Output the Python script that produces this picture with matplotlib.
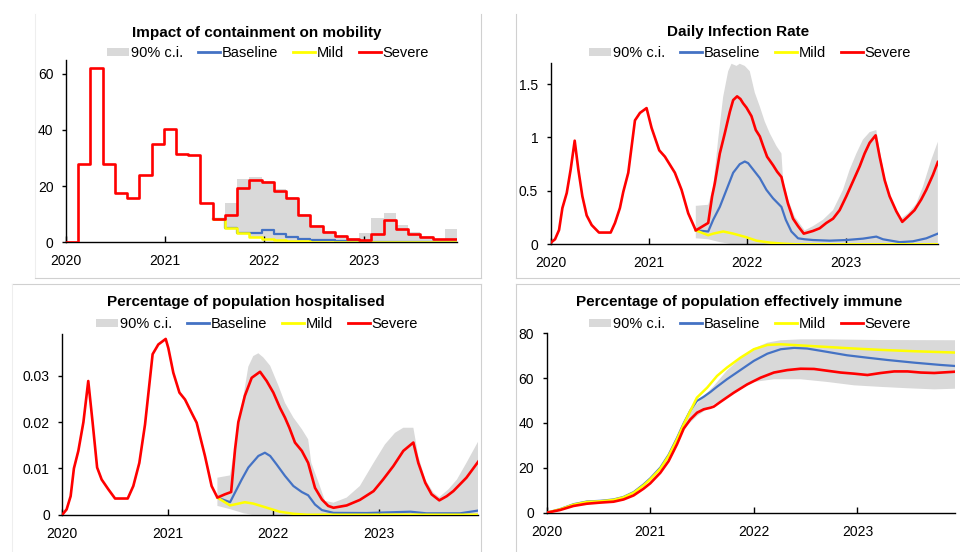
import numpy as np
import matplotlib
matplotlib.use("Agg")
import matplotlib.pyplot as plt
from matplotlib.lines import Line2D
from matplotlib.patches import Patch

plt.rcParams['font.family'] = ['Liberation Sans', 'DejaVu Sans']

# ---------------- data ----------------
YEARS = [2020, 2021, 2022, 2023]
START = 2020
PERIOD = 45 / 365.25          # length of one containment period (years)
N_PERIODS = 32

# Panel 1: impact of containment on mobility (per 45-day period)
mob_severe = [0, 28, 62, 28, 17.5, 15.7, 24, 35, 40.3, 31.6, 31.1, 13.8, 8.2, 9.6, 19.4, 22.1,
              21.3, 18.3, 15.8, 9.6, 5.7, 3.7, 2.1, 1.2, 0.7, 2.9, 7.8, 4.5, 2.9, 1.9, 0.95, 1.2]
mob_first = 12   # index where scenarios start
mob_mild = [8.2, 4.9, 3.1, 1.7, 0.95, 0.6, 0.35, 0.2, 0.15, 0.1, 0.08, 0.06, 0.05, 0.05, 0.05,
            0.05, 0.05, 0.05, 0.05, 0.05]
mob_base = [8.2, 4.9, 3.1, 3.3, 4.2, 2.9, 1.7, 1.1, 0.7, 0.6, 0.35, 0.25, 0.15, 0.1, 0.1,
            0.1, 0.1, 0.1, 0.1, 0.1]
mob_ci_hi = [8.2, 14.1, 22.4, 23.3, 21.8, 19.1, 16.2, 9.9, 5.9, 3.9, 2.4, 1.4, 3.3, 8.4, 10.5,
             5.9, 3.7, 2.1, 1.1, 4.5]

# Panel 2: daily infection rate
inf_sev_t = [0, 0.044, 0.085, 0.119, 0.163, 0.203, 0.244, 0.281, 0.322, 0.366, 0.417, 0.491, 0.61,
             0.654, 0.704, 0.738, 0.789, 0.857, 0.908, 0.975, 1.026, 1.104, 1.162, 1.263, 1.331,
             1.399, 1.476, 1.602, 1.642, 1.669, 1.72, 1.771, 1.822, 1.856, 1.896, 1.93, 1.957,
             1.991, 2.042, 2.086, 2.127, 2.161, 2.201, 2.262, 2.303, 2.347, 2.37, 2.414, 2.465,
             2.516, 2.574, 2.668, 2.736, 2.804, 2.872, 2.939, 3.007, 3.075, 3.143, 3.193, 3.244,
             3.305, 3.346, 3.397, 3.447, 3.515, 3.576, 3.634, 3.701, 3.769, 3.82, 3.888, 3.938]
inf_sev_v = [0.015, 0.047, 0.134, 0.34, 0.48, 0.70, 0.97, 0.70, 0.45, 0.27, 0.18, 0.11, 0.11,
             0.20, 0.34, 0.49, 0.67, 1.16, 1.23, 1.275, 1.09, 0.88, 0.82, 0.67, 0.51,
             0.29, 0.13, 0.20, 0.45, 0.57, 0.85, 1.04, 1.24, 1.35, 1.385, 1.36, 1.32,
             1.28, 1.20, 1.07, 1.01, 0.92, 0.82, 0.74, 0.68, 0.63, 0.54, 0.38, 0.24,
             0.17, 0.10, 0.125, 0.15, 0.20, 0.24, 0.32, 0.45, 0.59, 0.73, 0.85, 0.95,
             1.02, 0.82, 0.60, 0.45, 0.31, 0.21, 0.26, 0.32, 0.42, 0.51, 0.65, 0.77]
inf_base_t = [1.476, 1.602, 1.653, 1.72, 1.788, 1.856, 1.923, 1.974, 2.008, 2.059, 2.127, 2.194,
              2.262, 2.347, 2.391, 2.448, 2.516, 2.584, 2.668, 2.838, 3.007, 3.176, 3.312, 3.38,
              3.549, 3.684, 3.82, 3.938]
inf_base_v = [0.13, 0.12, 0.23, 0.35, 0.51, 0.67, 0.75, 0.775, 0.76, 0.70, 0.62, 0.51,
              0.43, 0.35, 0.23, 0.12, 0.056, 0.047, 0.04, 0.034, 0.04, 0.053, 0.072, 0.047,
              0.02, 0.028, 0.056, 0.10]
inf_mild_t = [1.476, 1.602, 1.653, 1.755, 1.856, 1.991, 2.093, 2.228, 2.364, 2.5, 3.938]
inf_mild_v = [0.13, 0.085, 0.10, 0.12, 0.10, 0.066, 0.034, 0.016, 0.006, 0.0, 0.0]
inf_hi_t = [1.476, 1.602, 1.653, 1.703, 1.754, 1.805, 1.839, 1.89, 1.923, 1.974, 2.025, 2.076,
            2.127, 2.177, 2.228, 2.296, 2.347, 2.364, 2.414, 2.482, 2.584, 2.668, 2.77, 2.872,
            2.973, 3.041, 3.109, 3.176, 3.244, 3.312, 3.346, 3.397, 3.464, 3.549, 3.634, 3.718,
            3.786, 3.871, 3.938]
inf_hi_v = [0.36, 0.37, 0.54, 0.98, 1.38, 1.62, 1.69, 1.67, 1.69, 1.67, 1.62, 1.42,
            1.29, 1.15, 1.04, 0.92, 0.85, 0.60, 0.42, 0.26, 0.13, 0.17, 0.23, 0.32,
            0.51, 0.70, 0.85, 0.98, 1.05, 1.07, 0.88, 0.63, 0.42, 0.23, 0.29, 0.38,
            0.54, 0.79, 0.96]
inf_lo_t = [1.476, 1.602, 1.72, 1.85, 3.938]
inf_lo_v = [0.056, 0.047, 0.02, 0.0, 0.0]

# Panel 3: percentage of population hospitalised
hos_sev_t = [0, 0.041, 0.079, 0.11, 0.152, 0.2, 0.246, 0.287, 0.33, 0.373, 0.436, 0.5, 0.62, 0.673,
             0.73, 0.784, 0.856, 0.91, 0.98, 1.005, 1.052, 1.11, 1.163, 1.226, 1.273, 1.352, 1.415,
             1.47, 1.54, 1.6, 1.637, 1.668, 1.73, 1.795, 1.874, 1.937, 2.0, 2.063, 2.11, 2.152,
             2.205, 2.27, 2.33, 2.395, 2.46, 2.52, 2.57, 2.695, 2.82, 2.95, 3.04, 3.137, 3.232,
             3.327, 3.374, 3.44, 3.5, 3.573, 3.643, 3.706, 3.83, 3.943]
hos_sev_v = [0, 0.00115, 0.004, 0.010, 0.0138, 0.020, 0.0289, 0.020, 0.0102, 0.0076, 0.0055, 0.0035,
             0.0035, 0.0062, 0.0112, 0.0195, 0.0347, 0.0368, 0.038, 0.036, 0.0307, 0.0264, 0.0249,
             0.022, 0.0199, 0.0127, 0.0062, 0.0037, 0.0044, 0.0049, 0.0141, 0.020, 0.0257, 0.0296,
             0.0309, 0.0289, 0.0264, 0.0231, 0.021, 0.0188, 0.0156, 0.0138, 0.0112, 0.0058, 0.0033,
             0.0019, 0.0015, 0.002, 0.0032, 0.0051, 0.0076, 0.0105, 0.0138, 0.0156, 0.0112, 0.0069,
             0.0044, 0.0031, 0.004, 0.0051, 0.008, 0.0115]
hos_base_t = [1.47, 1.59, 1.637, 1.7, 1.763, 1.858, 1.92, 1.97, 2.03, 2.11, 2.19, 2.27, 2.33, 2.395,
              2.46, 2.57, 2.885, 3.3, 3.45, 3.77, 3.943]
hos_base_v = [0.0037, 0.0027, 0.0048, 0.0076, 0.0102, 0.0127, 0.0134, 0.0127, 0.0109, 0.0084,
              0.0062, 0.0049, 0.0042, 0.0022, 0.001, 0.0004, 0.00036, 0.00065, 0.0003, 0.0003, 0.0009]
hos_mild_t = [1.47, 1.59, 1.73, 1.81, 1.94, 2.06, 2.19, 2.32, 3.943]
hos_mild_v = [0.0037, 0.002, 0.0027, 0.0024, 0.0015, 0.00065, 0.0002, 0.0, 0.0]
hos_hi_t = [1.47, 1.59, 1.62, 1.685, 1.763, 1.81, 1.858, 1.905, 1.97, 2.05, 2.11, 2.19, 2.27, 2.33,
            2.36, 2.43, 2.49, 2.57, 2.695, 2.82, 2.95, 3.058, 3.153, 3.232, 3.327, 3.374, 3.44,
            3.517, 3.573, 3.66, 3.74, 3.83, 3.943]
hos_hi_v = [0.008, 0.0085, 0.0127, 0.0213, 0.032, 0.0343, 0.0349, 0.034, 0.0322, 0.0278, 0.0242,
            0.021, 0.0185, 0.0163, 0.0112, 0.0069, 0.003, 0.0026, 0.0037, 0.0062, 0.0112, 0.0152,
            0.0177, 0.0188, 0.0188, 0.0127, 0.0076, 0.0048, 0.0038, 0.0055, 0.0076, 0.0112, 0.0159]
hos_lo_t = [1.47, 1.59, 1.72, 1.8, 3.943]
hos_lo_v = [0.0019, 0.0012, 0.0003, 0.0, 0.0]

# Panel 4: percentage of population effectively immune
imm_early_t = [0, 0.13, 0.26, 0.39, 0.52, 0.645, 0.74, 0.84, 0.935, 1.0, 1.097, 1.177, 1.258,
               1.323, 1.387]
imm_base_t = imm_early_t + [1.45, 1.516, 1.58, 1.645, 1.74, 1.87, 2.0, 2.13, 2.26, 2.39, 2.516,
                            2.71, 2.9, 3.1, 3.29, 3.55, 3.8, 3.95]
imm_base_v = [0, 1.6, 3.8, 5.0, 5.3, 5.9, 7.0, 9.2, 12.6, 15.3, 20.1, 25.8, 33.3, 39.9, 45.6,
              49.8, 51.7, 53.8, 56.2, 59.5, 63.6, 67.7, 70.9, 72.9, 73.5, 73.2, 71.7, 70.2,
              69.1, 68.1, 66.9, 65.9, 65.4]
imm_mild_t = imm_early_t + [1.45, 1.55, 1.645, 1.74, 1.87, 2.0, 2.13, 2.26, 2.45, 2.71, 2.97,
                            3.23, 3.55, 3.95]
imm_mild_v = [0, 1.5, 3.6, 4.8, 5.1, 5.7, 6.8, 8.9, 12.2, 14.9, 19.6, 25.3, 32.7, 39.4, 45.4,
              51.3, 55.8, 61.0, 64.7, 69.1, 72.9, 74.8, 75.1, 74.6, 73.9, 73.2, 72.6, 72.0, 71.4]
imm_sev_t = [0, 0.129, 0.258, 0.387, 0.516, 0.645, 0.742, 0.839, 0.935, 1.0, 1.097, 1.177, 1.258,
             1.323, 1.387, 1.452, 1.516, 1.581, 1.613, 1.677, 1.806, 1.935, 2.065, 2.194, 2.323,
             2.452, 2.581, 2.71, 2.839, 2.968, 3.097, 3.226, 3.355, 3.484, 3.613, 3.742, 3.952]
imm_sev_v = [0, 1.2, 3.0, 4.0, 4.5, 4.9, 5.9, 7.7, 10.7, 13.1, 17.8, 23.0, 30.5, 37.5, 41.6,
             44.6, 46.1, 46.8, 47.3, 49.4, 53.5, 57.2, 60.2, 62.5, 63.6, 64.2, 64.1, 63.3,
             62.5, 62.0, 61.4, 62.3, 63.0, 63.0, 62.5, 62.3, 62.9]
imm_hi_t = [1.323, 1.387, 1.613, 1.742, 1.871, 2.0, 2.129, 2.258, 2.452, 2.71, 3.226, 3.952]
imm_hi_v = [39.4, 45.4, 56.5, 63.5, 68.8, 73.2, 75.8, 76.9, 77.3, 77.3, 77.0, 76.9]
imm_lo_t = [1.323, 1.452, 1.613, 1.806, 2.0, 2.194, 2.452, 2.71, 2.968, 3.226, 3.484, 3.742, 3.952]
imm_lo_v = [37.5, 43.1, 48.3, 53.5, 58.3, 59.5, 59.5, 58.3, 56.8, 56.1, 55.5, 55.0, 55.3]

TITLES = ["Impact of containment on mobility", "Daily Infection Rate",
          "Percentage of population hospitalised", "Percentage of population effectively immune"]
LEGEND_LABELS = ["90% c.i.", "Baseline", "Mild", "Severe"]

# ---------------- style ----------------
C_CI = "#D9D9D9"
C_BASE = "#4472C4"
C_MILD = "#FFFF00"
C_SEV = "#FF0000"
W, H = 960, 552
XMAX = START + N_PERIODS * PERIOD

fig = plt.figure(figsize=(W / 100, H / 100), dpi=100)
fig.patch.set_facecolor("white")


def px_axes(l, t, r, b):
    return fig.add_axes([l / W, 1 - b / H, (r - l) / W, (b - t) / H])


def frame_line(xs, ys, color="#D0D0D0"):
    fig.add_artist(Line2D([x / W for x in xs], [1 - y / H for y in ys], color=color, lw=0.8))


def style(ax, ylim, yticks, fmt):
    ax.set_xlim(START, XMAX)
    ax.set_ylim(*ylim)
    ax.set_xticks(YEARS)
    ax.set_xticklabels([str(y) for y in YEARS])
    ax.set_yticks(yticks)
    ax.set_yticklabels([fmt(v) for v in yticks])
    for s in ("top", "right"):
        ax.spines[s].set_visible(False)
    for s in ("left", "bottom"):
        ax.spines[s].set_color("black")
        ax.spines[s].set_linewidth(1.0)
    ax.tick_params(axis="x", direction="in", length=4, width=1, labelsize=10, pad=8.5)
    ax.tick_params(axis="y", direction="out", length=3, width=1, labelsize=10, pad=6)


def yr(t):
    return START + np.asarray(t)


def legend_and_title(ax, title, tx, ty, lx, ly):
    fig.text(tx / W, 1 - ty / H, title, ha="center", va="center", fontsize=11, fontweight="bold")
    handles = [Patch(facecolor=C_CI, edgecolor="none"),
               Line2D([], [], color=C_BASE, lw=2),
               Line2D([], [], color=C_MILD, lw=2),
               Line2D([], [], color=C_SEV, lw=2)]
    ax.legend(handles, LEGEND_LABELS, loc="center", bbox_to_anchor=(lx / W, 1 - ly / H),
              bbox_transform=fig.transFigure, ncol=4, frameon=False, fontsize=10.5,
              handlelength=1.5, handleheight=0.45, handletextpad=0.15, columnspacing=1.0,
              borderpad=0, borderaxespad=0)


def line_fill(ax, hi_t, hi_v, lo_t, lo_v):
    xs = np.concatenate([yr(hi_t), yr(lo_t)[::-1]])
    ys = np.concatenate([hi_v, lo_v[::-1]])
    ax.fill(xs, ys, color=C_CI, lw=0, zorder=1)


# ---- panel frames ----
frame_line([35, 35], [14, 278], color="#EEEEEE")
frame_line([35, 481], [278, 278])
frame_line([481, 481], [14, 278])
frame_line([516, 516], [14, 278])
frame_line([516, 960], [278, 278])
frame_line([12, 481], [284, 284])
frame_line([481, 481], [284, 552])
frame_line([12, 12], [284, 552], color="#EEEEEE")
frame_line([516, 516], [284, 552])
frame_line([516, 960], [284, 284])

# ---- Panel 1: step chart ----
ax1 = px_axes(66, 60, 457, 242)
edges = START + np.arange(N_PERIODS + 1) * PERIOD
sev = np.array(mob_severe + [mob_severe[-1]])
sub_edges = edges[mob_first:]
mild = np.array(mob_mild + [mob_mild[-1]])
base = np.array(mob_base + [mob_base[-1]])
hi = np.array(mob_ci_hi + [mob_ci_hi[-1]])
ax1.fill_between(sub_edges, mild, hi, step="post", color=C_CI, lw=0, zorder=1)
ax1.step(sub_edges, base, where="post", color=C_BASE, lw=1.6, zorder=2)
ax1.step(sub_edges, mild, where="post", color=C_MILD, lw=1.8, zorder=3)
ax1.step(edges, sev, where="post", color=C_SEV, lw=1.9, zorder=4)
style(ax1, (0, 65), [0, 20, 40, 60], lambda v: f"{v:g}")
legend_and_title(ax1, TITLES[0], 257, 33, 268, 53)

# ---- Panel 2: infection rate ----
ax2 = px_axes(550.7, 62.7, 938.3, 244.3)
line_fill(ax2, inf_hi_t, inf_hi_v, inf_lo_t, inf_lo_v)
ax2.plot(yr(inf_base_t), inf_base_v, color=C_BASE, lw=1.6, zorder=2)
ax2.plot(yr(inf_mild_t), inf_mild_v, color=C_MILD, lw=1.8, zorder=3)
ax2.plot(yr(inf_sev_t), inf_sev_v, color=C_SEV, lw=1.9, zorder=4)
style(ax2, (0, 1.7), [0, 0.5, 1, 1.5], lambda v: f"{v:g}")
legend_and_title(ax2, TITLES[1], 738, 32, 750, 53)

# ---- Panel 3: hospitalised ----
ax3 = px_axes(62.3, 334.3, 478.3, 514.7)
line_fill(ax3, hos_hi_t, hos_hi_v, hos_lo_t, hos_lo_v)
ax3.plot(yr(hos_base_t), hos_base_v, color=C_BASE, lw=1.6, zorder=2)
ax3.plot(yr(hos_mild_t), hos_mild_v, color=C_MILD, lw=1.8, zorder=3)
ax3.plot(yr(hos_sev_t), hos_sev_v, color=C_SEV, lw=1.9, zorder=4)
style(ax3, (0, 0.039), [0, 0.01, 0.02, 0.03], lambda v: f"{v:g}")
legend_and_title(ax3, TITLES[2], 246, 302, 257, 324)

# ---- Panel 4: immune ----
ax4 = px_axes(546.7, 333.3, 955, 512.7)
line_fill(ax4, imm_hi_t, imm_hi_v, imm_lo_t, imm_lo_v)
ax4.plot(yr(imm_base_t), imm_base_v, color=C_BASE, lw=1.6, zorder=2)
ax4.plot(yr(imm_mild_t), imm_mild_v, color=C_MILD, lw=1.8, zorder=3)
ax4.plot(yr(imm_sev_t), imm_sev_v, color=C_SEV, lw=1.9, zorder=4)
style(ax4, (0, 80), [0, 20, 40, 60, 80], lambda v: f"{v:g}")
legend_and_title(ax4, TITLES[3], 739, 302, 750, 324)

fig.savefig("out.png", dpi=100, facecolor="white")
